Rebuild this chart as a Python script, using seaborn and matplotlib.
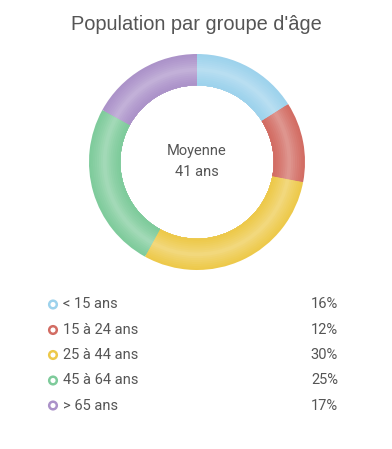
import matplotlib
matplotlib.use("Agg")
import matplotlib.pyplot as plt
import seaborn as sns
import numpy as np
import pandas as pd

# ---- data ----
categories = ["< 15 ans", "15 à 24 ans", "25 à 44 ans", "45 à 64 ans", "> 65 ans"]
values = [16, 12, 30, 25, 17]
value_labels = ["16%", "12%", "30%", "25%", "17%"]
colors = ["#9dd2ec", "#d26c63", "#edc94a", "#7ecb9b", "#ab92c9"]
title = "Population par groupe d'âge"
center_lines = ["Moyenne", "41 ans"]

sns.set_theme(style="white")
plt.rcParams["font.family"] = ["Roboto", "DejaVu Sans"]

W, H = 392, 449
fig = plt.figure(figsize=(W / 100, H / 100), dpi=100)
fig.patch.set_facecolor("white")

# ---- donut ----
cx, cy, R = 197, 162, 108
ax = fig.add_axes([(cx - R) / W, 1 - (cy + R) / H, 2 * R / W, 2 * R / H])

inner = 0.71
n_layers = 16
edges = np.linspace(1.0, inner, n_layers + 1)
pal = sns.color_palette(colors)
for i in range(n_layers):
    r_out = edges[i]
    t = (i + 0.5) / n_layers
    f = 0.30 * (1 - abs(t - 0.5) * 2) ** 1.3
    shade = [tuple(np.array(c) * (1 - f) + f) for c in pal]
    ax.pie(values, radius=r_out, colors=shade, startangle=90, counterclock=False,
           wedgeprops=dict(width=r_out - inner, linewidth=0, antialiased=True))
ax.set_xlim(-1, 1)
ax.set_ylim(-1, 1)
ax.set_aspect("equal")
ax.axis("off")

ax.text(0, 0.105, center_lines[0], ha="center", va="center", fontsize=10.5, color="#555555")
ax.text(0, -0.095, center_lines[1], ha="center", va="center", fontsize=10.5, color="#555555")

# ---- title + legend overlay ----
ov = fig.add_axes([0, 0, 1, 1])
ov.patch.set_alpha(0)

row_y = [304.5, 330, 355, 380.5, 405.5]
df = pd.DataFrame({"cat": categories, "x": [53] * 5, "y": row_y})
sns.scatterplot(data=df, x="x", y="y", hue="cat", palette=colors, ax=ov,
                s=30, legend=False, linewidth=1.8, zorder=3)
coll = ov.collections[-1]
coll.set_edgecolors(colors)
coll.set_facecolors(["white"] * 5)
ov.set_xlim(0, W)
ov.set_ylim(H, 0)
ov.axis("off")

ov.text(196, 24, title, ha="center", va="center", fontsize=14.4,
        color="#555555", family=["Liberation Sans", "DejaVu Sans"])

for y, lab, v in zip(row_y, categories, value_labels):
    ov.text(63, y, lab, ha="left", va="center", fontsize=10.5, color="#555555")
    ov.text(338, y, v, ha="right", va="center", fontsize=10.5, color="#555555")

fig.savefig("out.png", dpi=100, facecolor="white")
